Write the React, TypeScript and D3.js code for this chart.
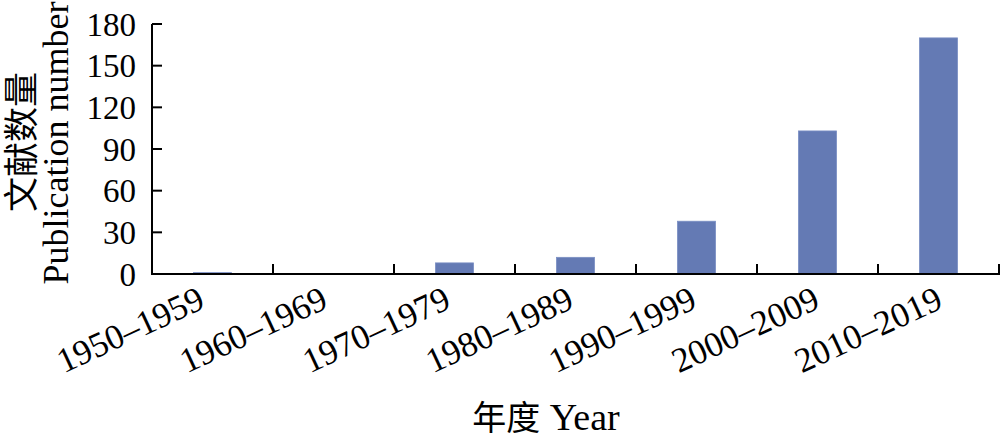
import React from "react";
import * as d3 from "d3";

const categories = ["1950–1959", "1960–1969", "1970–1979", "1980–1989", "1990–1999", "2000–2009", "2010–2019"];
const counts = [1, 0, 8, 12, 38, 103, 170];
const yTicks = [0, 30, 60, 90, 120, 150, 180];

const W = 1000;
const H = 441;
const FONT = '"Liberation Serif", "Times New Roman", "Noto Sans CJK SC", serif';
const CJK = '"Noto Sans CJK SC", sans-serif';

export default function App() {
  const x = d3.scaleBand<string>().domain(categories).range([152, 999]).paddingInner(0).paddingOuter(0);
  const y = d3.scaleLinear().domain([0, 180]).range([274, 24]);
  const bw = x.bandwidth();
  const barW = bw * 0.315;
  const y0 = y(0);

  return (
    <svg width={W} height={H} style={{ position: "absolute", left: 0, top: 0, background: "#fff" }} fontFamily={FONT}>
      <rect x={0} y={0} width={W} height={H} fill="#fff" />
      {categories.map((c, i) => {
        const cx = (x(c) as number) + bw / 2;
        const top = y(counts[i]);
        const h = y0 - top;
        if (h <= 0) return null;
        return (
          <rect key={c} x={cx - barW / 2} y={top} width={barW} height={h} fill="#647ab4" stroke="#7b8fc4" strokeWidth={0.8} />
        );
      })}
      <line x1={152} x2={152} y1={y(180)} y2={y0 + 1} stroke="#000" strokeWidth={2} />
      {yTicks.map((t) => (
        <g key={t}>
          <line x1={152} x2={162} y1={y(t)} y2={y(t)} stroke="#000" strokeWidth={2} />
          <text x={136} y={y(t)} dy="0.35em" textAnchor="end" fontSize={33} fill="#000">
            {t}
          </text>
        </g>
      ))}
      <line x1={151} x2={1000} y1={y0} y2={y0} stroke="#000" strokeWidth={2} />
      {categories.map((c) => {
        const xr = (x(c) as number) + bw;
        return <line key={"t" + c} x1={xr} x2={xr} y1={y0} y2={y0 - 10} stroke="#000" strokeWidth={2} />;
      })}
      {categories.map((c, i) => {
        const cx = (x(c) as number) + bw / 2 + 2 * i - 6;
        return (
          <text key={"l" + c} transform={`translate(${cx},${307}) rotate(-25)`} textAnchor="end" fontSize={35} fill="#000">
            {c}
          </text>
        );
      })}
      <text x={546} y={430} textAnchor="middle" fontSize={38} fill="#000">
        <tspan fontFamily={CJK} fontSize={34}>年度</tspan>
        <tspan> Year</tspan>
      </text>
      <text transform={`translate(34,142) rotate(-90)`} textAnchor="middle" fontSize={35} fontFamily={CJK} fill="#000">
        文献数量
      </text>
      <text transform={`translate(68,143) rotate(-90)`} textAnchor="middle" fontSize={36} fill="#000">
        Publication number
      </text>
    </svg>
  );
}
